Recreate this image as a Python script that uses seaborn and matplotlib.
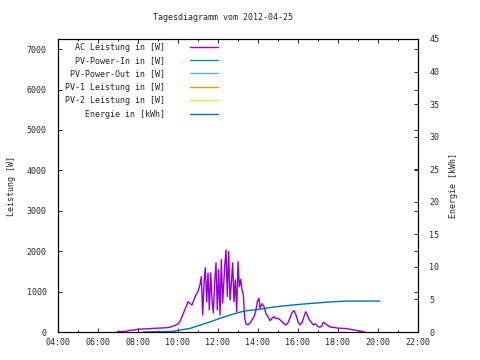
import numpy as np
import pandas as pd
import matplotlib
matplotlib.use("Agg")
import matplotlib.pyplot as plt
from matplotlib.ticker import MultipleLocator, FuncFormatter
import seaborn as sns

# AC Leistung [W]
ac_time = ["06:57", "07:10", "07:25", "07:35", "07:50", "08:00", "08:15", "08:30",
           "08:45", "09:00", "09:15", "09:30", "09:40", "09:50", "10:00", "10:06",
           "10:12", "10:18", "10:24", "10:30", "10:36", "10:42", "10:48", "10:54",
           "11:00", "11:06", "11:10", "11:14", "11:18", "11:22", "11:26", "11:30",
           "11:34", "11:38", "11:42", "11:46", "11:50", "11:54", "11:58", "12:02",
           "12:06", "12:10", "12:14", "12:20", "12:24", "12:28", "12:32", "12:36",
           "12:40", "12:44", "12:48", "12:52", "12:56", "13:00", "13:04", "13:08",
           "13:12", "13:16", "13:20", "13:24", "13:30", "13:36", "13:42", "13:48",
           "13:54", "13:58", "14:03", "14:06", "14:12", "14:18", "14:24", "14:30",
           "14:36", "14:42", "14:48", "14:54", "15:00", "15:06", "15:12", "15:18",
           "15:24", "15:30", "15:36", "15:42", "15:48", "15:54", "16:00", "16:06",
           "16:12", "16:18", "16:23", "16:28", "16:34", "16:40", "16:46", "16:52",
           "16:58", "17:04", "17:10", "17:16", "17:22", "17:28", "17:34", "17:40",
           "17:50", "18:00", "18:15", "18:25", "18:35", "18:45", "18:55", "19:05",
           "19:15", "19:20"]
ac_watt = [0, 10, 20, 40, 50, 70, 75, 80,
           90, 95, 100, 110, 130, 160, 200, 260,
           380, 500, 620, 750, 700, 670, 800, 920,
           1000, 1170, 1370, 420, 1200, 1590, 750, 1460,
           545, 1460, 800, 470, 1250, 1710, 545, 1540,
           420, 1790, 720, 1600, 2030, 875, 1990, 790,
           1200, 1710, 750, 1290, 500, 1740, 1120, 1300,
           1040, 920, 350, 200, 175, 220, 300, 380,
           550, 750, 835, 590, 700, 630, 450, 380,
           280, 340, 380, 330, 340, 300, 255, 200,
           175, 230, 350, 480, 530, 420, 255, 175,
           230, 380, 500, 420, 300, 240, 175, 200,
           150, 120, 130, 240, 210, 170, 130, 120,
           110, 95, 90, 85, 70, 55, 40, 30,
           10, 0]

# Energie [kWh]
en_time = ["08:15", "09:45", "10:06", "10:36", "11:06", "11:36", "12:06", "12:36",
           "13:06", "13:24", "14:06", "14:36", "15:06", "15:36", "16:06", "16:54",
           "17:30", "18:24", "20:06"]
en_kwh = [0.0, 0.1, 0.3, 0.55, 1.05, 1.55, 2.1, 2.6,
          3.05, 3.25, 3.5, 3.75, 3.95, 4.1, 4.25, 4.45,
          4.6, 4.75, 4.75]

# series without data on this day
pv_in = []
pv_out = []
pv1 = []
pv2 = []

labels = ["AC Leistung in [W]", "PV-Power-In in [W]", "PV-Power-Out in [W]",
          "PV-1 Leistung in [W]", "PV-2 Leistung in [W]", "Energie in [kWh]"]
colors = ["#9400D3", "#009E73", "#56B4E9", "#E69F00", "#F0E442", "#0072B2"]


def to_hours(lst):
    return [int(s[:2]) + int(s[3:]) / 60 for s in lst]


sns.set_style("ticks")
plt.rcParams["font.family"] = ["DejaVu Sans Mono"]
plt.rcParams["font.size"] = 6

fig = plt.figure(figsize=(4.8, 3.6), dpi=100)
ax = fig.add_axes([58 / 480, 28 / 360, 360 / 480, 293 / 360])
ax2 = ax.twinx()

ac = pd.DataFrame({"t": to_hours(ac_time), "w": ac_watt})
en = pd.DataFrame({"t": to_hours(en_time), "e": en_kwh})

sns.lineplot(data=ac, x="t", y="w", ax=ax, color=colors[0], lw=1.0,
             sort=False, estimator=None, label=labels[0])
handles = [ax.lines[0]]
for vals, c, lab in zip([pv_in, pv_out, pv1, pv2], colors[1:5], labels[1:5]):
    h, = ax.plot(to_hours([]), vals, color=c, lw=1.0, label=lab)
    handles.append(h)
sns.lineplot(data=en, x="t", y="e", ax=ax2, color=colors[5], lw=1.0,
             sort=False, estimator=None, label=labels[5])
handles.append(ax2.lines[0])
if ax.get_legend():
    ax.get_legend().remove()
if ax2.get_legend():
    ax2.get_legend().remove()

ax.set_xlim(4, 22)
ax.set_ylim(0, 7250)
ax2.set_ylim(0, 45)
ax.xaxis.set_major_locator(MultipleLocator(2))
ax.xaxis.set_minor_locator(MultipleLocator(1))
ax.xaxis.set_major_formatter(FuncFormatter(lambda v, p: f"{int(v):02d}:00"))
ax.yaxis.set_major_locator(MultipleLocator(1000))
ax2.yaxis.set_major_locator(MultipleLocator(5))

ax.tick_params(axis="both", which="major", direction="in", length=3, width=0.7,
               top=True, right=True, labelsize=6)
ax.tick_params(axis="x", which="minor", direction="in", length=1.5, width=0.7,
               top=True)
ax.tick_params(axis="y", which="major", pad=8)
ax.tick_params(axis="x", which="major", pad=4)
ax2.tick_params(axis="y", direction="in", length=3, width=0.7, labelsize=6, pad=8)
for a in (ax, ax2):
    for s in a.spines.values():
        s.set_linewidth(0.8)
        s.set_color("black")

ax.set_xlabel("")
ax.set_ylabel("Leistung [W]", fontsize=6, labelpad=8)
ax2.set_ylabel("Energie [kWh]", fontsize=6, labelpad=7)

fig.text(223 / 480, 1 - 17 / 360, "Tagesdiagramm vom 2012-04-25", ha="center",
         va="center", fontsize=6)

ax2.legend(handles, labels, loc="upper right", bbox_to_anchor=(0.444, 0.988),
           frameon=False, markerfirst=False, fontsize=6, borderpad=0,
           borderaxespad=0, handlelength=3.3, handletextpad=3.0,
           labelspacing=0.53)

fig.savefig("out.png", dpi=100)
